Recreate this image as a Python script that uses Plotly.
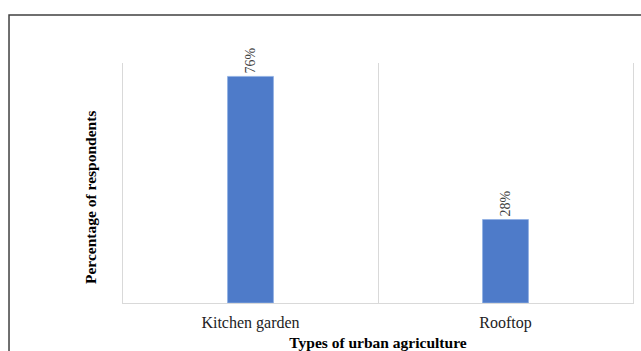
import plotly.graph_objects as go

categories = ["Kitchen garden", "Rooftop"]
values = [76, 28]
labels = ["76%", "28%"]

SERIF = "Liberation Serif, Times New Roman, Times, serif"

fig = go.Figure()
fig.add_trace(go.Bar(
    x=categories, y=values, text=labels,
    textposition="outside", textangle=-90,
    textfont=dict(family=SERIF, size=14, color="#404040"),
    marker=dict(color="#4e7bc9", line=dict(color="#8fb0e3", width=0.8)),
    width=0.18, cliponaxis=False,
))

fig.update_layout(
    width=641, height=351,
    margin=dict(l=123, r=8, t=63, b=48, autoexpand=False),
    paper_bgcolor="white", plot_bgcolor="white",
    showlegend=False,
    font=dict(family=SERIF, color="black"),
    xaxis=dict(
        type="category", range=[-0.5, 1.5], tickson="boundaries",
        showgrid=True, gridcolor="#d9d9d9", gridwidth=1, automargin=False,
        showline=True, linecolor="#d9d9d9", linewidth=1, ticks="",
        ticklabelstandoff=5,
        tickfont=dict(family=SERIF, size=16, color="#222"),
        title=dict(text="<b>Types of urban agriculture</b>", standoff=10,
                   font=dict(family=SERIF, size=15.5, color="black")),
    ),
    yaxis=dict(
        range=[0, 80.5], showgrid=False, showticklabels=False, ticks="",
        automargin=False,
        zeroline=False, showline=True, mirror=True, linecolor="#d9d9d9", linewidth=1,
    ),
    annotations=[dict(text="<b>Percentage of respondents</b>", textangle=-90,
                      xref="paper", yref="paper", x=-0.0647, y=0.4375,
                      showarrow=False, xanchor="center", yanchor="middle",
                      font=dict(family=SERIF, size=15.5, color="black"))],
    shapes=[dict(type="rect", xref="paper", yref="paper",
                 x0=-0.2235, x1=1.05, y0=-0.4, y1=1.2,
                 line=dict(color="#404040", width=1.5), fillcolor="rgba(0,0,0,0)",
                 layer="below")],
)

fig.write_html("out.html")
